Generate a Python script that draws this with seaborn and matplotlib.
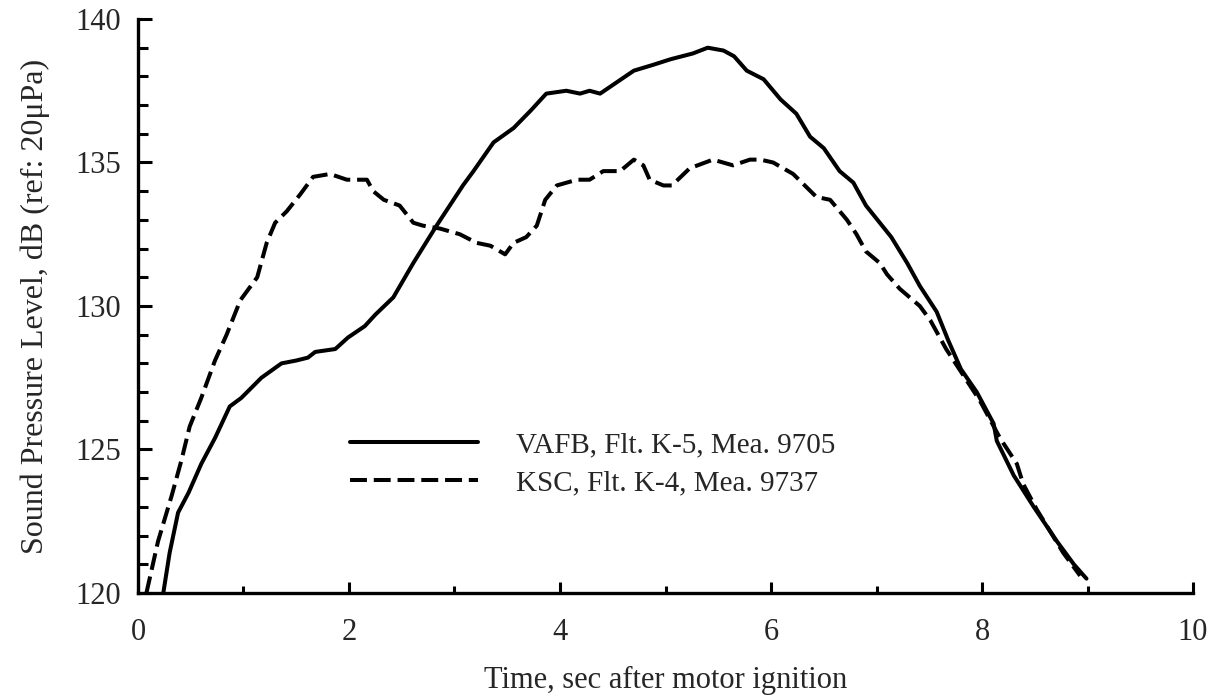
import pandas as pd
import matplotlib
matplotlib.use("Agg")
import matplotlib.pyplot as plt
import matplotlib.ticker as plticker
import seaborn as sns

# values
vafb_label = "VAFB, Flt. K-5, Mea. 9705"
ksc_label = "KSC, Flt. K-4, Mea. 9737"

vafb_time = [0.24, 0.30, 0.38, 0.48, 0.60, 0.73, 0.87, 0.98, 1.17, 1.36, 1.50, 1.61,
             1.68, 1.87, 1.99, 2.15, 2.25, 2.42, 2.61, 2.83, 3.08, 3.18, 3.37, 3.56,
             3.72, 3.87, 4.06, 4.19, 4.28, 4.38, 4.54, 4.70, 4.88, 5.05, 5.26, 5.40,
             5.55, 5.65, 5.77, 5.93, 6.09, 6.24, 6.37, 6.50, 6.65, 6.78, 6.90, 7.14,
             7.29, 7.41, 7.57, 7.68, 7.80, 7.95, 8.11, 8.14, 8.30, 8.49, 8.71, 8.87,
             8.99]
vafb_spl = [120.0, 121.4, 122.8, 123.5, 124.5, 125.4, 126.5, 126.8, 127.5, 128.0, 128.1, 128.2,
            128.4, 128.5, 128.9, 129.3, 129.7, 130.3, 131.5, 132.8, 134.2, 134.7, 135.7, 136.2,
            136.8, 137.4, 137.5, 137.4, 137.5, 137.4, 137.8, 138.2, 138.4, 138.6, 138.8, 139.0,
            138.9, 138.7, 138.2, 137.9, 137.2, 136.7, 135.9, 135.5, 134.7, 134.3, 133.5, 132.4,
            131.5, 130.7, 129.8, 128.8, 127.8, 127.0, 125.9, 125.3, 124.1, 123.0, 121.8, 121.0,
            120.5]

ksc_time = [0.08, 0.19, 0.32, 0.41, 0.49, 0.60, 0.73, 0.84, 0.97, 1.13, 1.22, 1.30,
            1.41, 1.54, 1.66, 1.82, 1.98, 2.17, 2.23, 2.33, 2.48, 2.61, 2.70, 2.86,
            3.05, 3.21, 3.34, 3.48, 3.56, 3.68, 3.78, 3.86, 3.97, 4.16, 4.28, 4.41,
            4.57, 4.70, 4.79, 4.85, 4.98, 5.06, 5.23, 5.45, 5.64, 5.80, 5.90, 6.02,
            6.21, 6.43, 6.56, 6.72, 6.81, 6.90, 7.03, 7.10, 7.22, 7.41, 7.51, 7.66,
            7.98, 8.17, 8.33, 8.39, 8.52, 8.77, 8.93]
ksc_spl = [120.0, 121.8, 123.4, 124.6, 125.8, 126.8, 128.1, 129.0, 130.2, 131.0, 132.2, 132.9,
           133.3, 133.9, 134.5, 134.6, 134.4, 134.4, 134.0, 133.7, 133.5, 132.9, 132.8, 132.7,
           132.5, 132.2, 132.1, 131.8, 132.2, 132.4, 132.8, 133.7, 134.2, 134.4, 134.4, 134.7,
           134.7, 135.1, 134.9, 134.4, 134.2, 134.2, 134.8, 135.1, 134.9, 135.1, 135.1, 135.0,
           134.6, 133.8, 133.7, 133.0, 132.5, 131.9, 131.5, 131.1, 130.6, 130.0, 129.5, 128.5,
           126.7, 125.4, 124.5, 123.8, 122.9, 121.4, 120.6]

x_ticks = [0, 2, 4, 6, 8, 10]
y_ticks = [120, 125, 130, 135, 140]

df = pd.concat([
    pd.DataFrame({"time": vafb_time, "spl": vafb_spl, "series": vafb_label}),
    pd.DataFrame({"time": ksc_time, "spl": ksc_spl, "series": ksc_label}),
])

sns.set_style("ticks")
plt.rcParams["font.family"] = ["Liberation Serif", "DejaVu Serif"]

fig = plt.figure(figsize=(12.2, 6.96), dpi=100)
ax = fig.add_axes([0.1131, 0.148, 0.8648, 0.8247])

sns.lineplot(data=df, x="time", y="spl", style="series", color="black",
             dashes={vafb_label: "", ksc_label: (4.2, 1.7)},
             estimator=None, sort=False, linewidth=2.9, ax=ax)

ax.set_xlim(0, 10)
ax.set_ylim(120, 140)
ax.set_xticks(x_ticks)
ax.set_yticks(y_ticks)
ax.xaxis.set_minor_locator(plticker.MultipleLocator(1))
ax.yaxis.set_minor_locator(plticker.MultipleLocator(1))

for side in ["top", "right"]:
    ax.spines[side].set_visible(False)
for side in ["left", "bottom"]:
    ax.spines[side].set_linewidth(2.4)
    ax.spines[side].set_color("black")

ax.tick_params(axis="both", which="both", direction="in", color="black", width=2.2)
ax.tick_params(axis="x", which="major", length=8, pad=18, labelsize=22)
ax.tick_params(axis="x", which="minor", length=5)
ax.tick_params(axis="y", which="major", length=10, pad=12, labelsize=22)
ax.tick_params(axis="y", which="minor", length=7)

ax.set_xlabel("Time, sec after motor ignition", fontsize=22)
ax.set_ylabel("Sound Pressure Level, dB (ref: 20\u03bcPa)", fontsize=23)
ax.xaxis.set_label_coords(0.5, -0.128)
ax.yaxis.set_label_coords(-0.083, 0.5)

handles, labels = ax.get_legend_handles_labels()
ax.legend(handles, labels, loc="upper left", bbox_to_anchor=(0.201, 0.281),
          frameon=False, fontsize=21, handlelength=4.4, handletextpad=1.3,
          labelspacing=0.4, borderpad=0, borderaxespad=0)

fig.savefig("out.png", dpi=100, facecolor="white")
